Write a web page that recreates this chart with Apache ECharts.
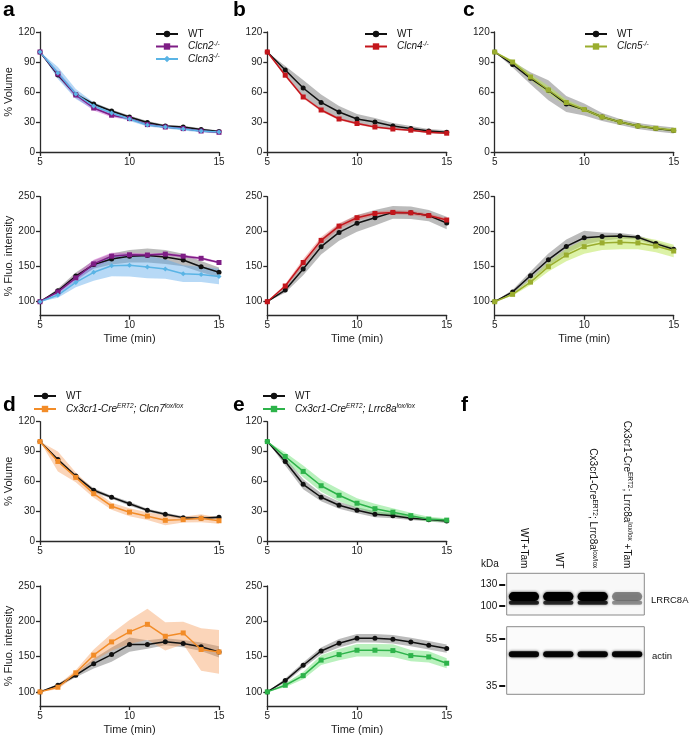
<!DOCTYPE html>
<html><head><meta charset="utf-8">
<script src="https://cdn.jsdelivr.net/npm/echarts@6/dist/echarts.min.js"></script>
<style>html,body{margin:0;padding:0;background:#fff}#c{width:690px;height:737px}</style>
</head><body><div id="c"></div><script>
// ---------- DATA ----------
const times = [5, 6, 7, 8, 9, 10, 11, 12, 13, 14, 15];
const fluoTicks = [100, 150, 200, 250];

// panel a
const aVolWT = [100, 77, 57.5, 48, 41, 35, 29.5, 26, 25, 22.5, 20.5];
const aVolWTsem = [0, 2, 2, 1.5, 1.5, 1.5, 1.5, 1.2, 1.2, 1.2, 1];
const aVolC2 = [100, 78, 57, 44, 36.8, 33.4, 27.4, 25, 23.4, 21, 19.7];
const aVolC2sem = [0, 3, 3, 2.5, 2, 1.5, 1.5, 1, 1, 1, 1];
const aVolC3 = [100, 79, 58, 46, 39, 33, 27, 25, 23, 21, 20];
const aVolC3sem = [0, 6, 5, 3.5, 2.5, 2, 1.5, 1.5, 1.5, 1.5, 1.5];
const aFluWT = [100, 115.7, 136.7, 153, 161, 165, 166, 164, 159.5, 150, 142];
const aFluWTsem = [0, 3, 5, 6, 8, 9, 10, 10, 9, 8, 7];
const aFluC2 = [100, 114, 134, 154, 165, 167, 166.7, 168, 165, 162, 156];
const aFluC2sem = [0, 3, 5, 6, 5, 3, 2, 2, 2, 2, 1.5];
const aFluC3 = [100, 109.5, 127.6, 142, 151.4, 152, 149.5, 146.7, 140, 139, 136];
const aFluC3sem = [0, 4, 7, 12, 15, 16, 16, 14, 12, 11, 11];
// panel b
const bVolWT = [100, 82, 64, 49.6, 40, 33, 30, 26, 23.5, 21, 19.8];
const bVolWTsem = [0, 4, 8, 8, 6, 5, 4, 3, 2.5, 2, 2];
const bVolC4 = [100, 76.8, 55, 42, 33, 28.5, 25, 23, 21.8, 19.8, 18.8];
const bVolC4sem = [0, 1.5, 1.5, 1.5, 1.2, 1.2, 1, 1, 1, 1, 1];
const bFluWT = [100, 116.7, 146.7, 178.6, 199, 212, 220, 227.6, 227, 223, 212.4];
const bFluWTsem = [0, 4, 9, 11, 12, 12, 11, 9, 9, 8, 9];
const bFluC4 = [100, 122.4, 156, 187.6, 208, 220, 226, 227.6, 227, 223, 216.7];
const bFluC4sem = [0, 3, 5, 5, 4, 4, 3, 3, 3, 3, 3];
// panel c
const cVolWT = [100, 87.5, 73.7, 61.7, 48, 42.5, 35, 30, 26, 23.5, 21.5];
const cVolWTsem = [0, 3, 6, 10, 8, 6, 4, 3, 3, 3, 3];
const cVolC5 = [100, 90, 75, 62, 49.5, 42.5, 35, 30, 26, 23.7, 21.7];
const cVolC5sem = [0, 2, 3, 4, 3, 2, 2, 1.5, 1.5, 1.5, 1.5];
const cFluWT = [100, 114, 137, 160, 179, 191.4, 193, 194, 192, 183, 175];
const cFluWTsem = [0, 3, 6, 9, 10, 10, 6, 4, 3, 3, 3];
const cFluC5 = [100, 110.5, 128, 150, 166.7, 178.6, 184, 185, 184, 179.5, 172.4];
const cFluC5sem = [0, 2, 4, 7, 9, 10, 10, 10, 9, 9, 9];
// panel d
const dVolWT = [100, 82, 65.4, 51, 44, 37.5, 31, 27, 23.5, 22.8, 24];
const dVolWTsem = [0, 1.5, 1.5, 2, 1.5, 2, 1.5, 1.5, 1.5, 1.5, 1.5];
const dVolKO = [100, 80, 64, 47.6, 35, 29, 25, 20.8, 21.5, 22.8, 20.4];
const dVolKOsem = [0, 10, 5, 4, 3.5, 4, 4, 5, 3, 4, 3];
const dFluWT = [100, 109.4, 123.6, 140, 152.8, 167, 167, 171, 168.4, 164, 156.6];
const dFluWTsem = [0, 2, 3, 7, 10, 10, 6, 5, 5, 6, 8];
const dFluKO = [100, 106.6, 127, 152, 170.8, 185, 195.7, 178.8, 183.5, 160, 156.6];
const dFluKOsem = [0, 3, 4, 8, 12, 17, 22, 20, 16, 30, 31];
// panel e
const eVolWT = [100, 80, 57, 44, 36, 31, 27, 25.5, 23, 21.5, 20];
const eVolWTsem = [0, 4, 5, 4, 3.5, 3, 3, 2.5, 2, 2, 2];
const eVolKO = [100, 85, 70, 55.6, 46, 38, 32.5, 29, 25.5, 22, 21];
const eVolKOsem = [0, 4, 6, 6, 6, 5, 5, 4, 3, 2.5, 2];
const eFluWT = [100, 116, 137.7, 158, 169, 176, 176, 174.5, 170.8, 166, 161.3];
const eFluWTsem = [0, 3, 4, 5, 6, 6, 6, 6, 6, 6, 6];
const eFluKO = [100, 109.4, 123, 145, 152.8, 159, 159, 158.5, 151.4, 149.5, 140.6];
const eFluKOsem = [0, 3, 5, 7, 8, 9, 9, 9, 8, 8, 7];
// panel f (western blot)
const laneLabels = ['WT+Tam', 'WT',
  '{t|Cx3cr1-Cre}{s|ERT2}{t|; Lrrc8a}{s|lox/lox}',
  '{t|Cx3cr1-Cre}{s|ERT2}{t|; Lrrc8a}{s|lox/lox}{t| +Tam}'];
const lrrcMarkers = [100, 130];
const actinMarkers = [35, 55];
const lrrcUpperKDa = 113;
const lrrcLowerKDa = 104.5;
const actinKDa = 48.5;
const lrrcUpperSignal = [1, 1, 1, 0.42];
const lrrcLowerSignal = [0.8, 0.75, 0.8, 0.38];
const actinSignal = [0.95, 0.95, 0.95, 0.95];

// ---------- STYLE ----------
const FONT = 'Liberation Sans, Arial, Helvetica, sans-serif';
const STY = {
  WT: {color: '#111111', band: 'rgba(105,105,105,0.45)', symbol: 'circle', size: 5, z: 3},
  Clcn2: {color: '#7e1d85', band: 'rgba(205,70,205,0.45)', symbol: 'rect', size: 5, z: 4},
  Clcn3: {color: '#5ab4e5', band: 'rgba(95,170,235,0.45)', symbol: 'diamond', size: 5, z: 4},
  Clcn4: {color: '#c4161c', band: 'rgba(230,95,95,0.4)', symbol: 'rect', size: 5, z: 4},
  Clcn5: {color: '#9aad2e', band: 'rgba(185,230,80,0.5)', symbol: 'rect', size: 5, z: 4},
  Clcn7: {color: '#f28c28', band: 'rgba(245,150,80,0.4)', symbol: 'rect', size: 5, z: 4},
  Lrrc8a: {color: '#2db34a', band: 'rgba(80,220,90,0.4)', symbol: 'rect', size: 5, z: 4}
};
const LEGEND_TXT = {
  WT: '{n|WT}',
  Clcn2: '{it|Clcn2}{sup|-/-}',
  Clcn3: '{it|Clcn3}{sup|-/-}',
  Clcn4: '{it|Clcn4}{sup|-/-}',
  Clcn5: '{it|Clcn5}{sup|-/-}',
  Clcn7: '{it|Cx3cr1-Cre}{sup|ERT2}{it|; Clcn7}{sup|lox/lox}',
  Lrrc8a: '{it|Cx3cr1-Cre}{sup|ERT2}{it|; Lrrc8a}{sup|lox/lox}'
};

// grid geometry: [left, top, width, height, kind, yName, xName]
const GRIDS = [
  [40, 32, 179, 120, 'vol', '% Volume', false],
  [40, 196.7, 179, 119, 'flu', '% Fluo. intensity', true],
  [267.3, 32, 179.4, 120, 'vol', '', false],
  [267.3, 196.7, 179.4, 119, 'flu', '', true],
  [494.7, 32, 179, 120, 'vol', '', false],
  [494.7, 196.7, 179, 119, 'flu', '', true],
  [40, 421.7, 179, 119.3, 'vol', '% Volume', false],
  [40, 586, 179, 120, 'flu', '% Fluo. intensity', true],
  [267.3, 421.7, 179.4, 119.3, 'vol', '', false],
  [267.3, 586, 179.4, 120, 'flu', '', true]
];
const PANEL_SERIES = [
  [['WT', aVolWT, aVolWTsem], ['Clcn2', aVolC2, aVolC2sem], ['Clcn3', aVolC3, aVolC3sem]],
  [['WT', aFluWT, aFluWTsem], ['Clcn2', aFluC2, aFluC2sem], ['Clcn3', aFluC3, aFluC3sem]],
  [['WT', bVolWT, bVolWTsem], ['Clcn4', bVolC4, bVolC4sem]],
  [['WT', bFluWT, bFluWTsem], ['Clcn4', bFluC4, bFluC4sem]],
  [['WT', cVolWT, cVolWTsem], ['Clcn5', cVolC5, cVolC5sem]],
  [['WT', cFluWT, cFluWTsem], ['Clcn5', cFluC5, cFluC5sem]],
  [['WT', dVolWT, dVolWTsem], ['Clcn7', dVolKO, dVolKOsem]],
  [['WT', dFluWT, dFluWTsem], ['Clcn7', dFluKO, dFluKOsem]],
  [['WT', eVolWT, eVolWTsem], ['Lrrc8a', eVolKO, eVolKOsem]],
  [['WT', eFluWT, eFluWTsem], ['Lrrc8a', eFluKO, eFluKOsem]]
];

const axisLineStyle = {color: '#2a2a2a', width: 1.3};
const grid = [], xAxis = [], yAxis = [], series = [];

// SEM band: one polygon through all points of the series (upper edge, then lower edge reversed)
const bandRenderer = (color) => (params, api) => {
  if (params.dataIndexInside !== 0) return null;
  const n = params.dataInsideLength;
  const up = [], lo = [];
  for (let j = 0; j < n; j++) {
    up.push(api.coord([api.value(0, j), api.value(2, j)]));
    lo.push(api.coord([api.value(0, j), api.value(1, j)]));
  }
  return {type: 'polygon', shape: {points: up.concat(lo.reverse())}, style: {fill: color}};
};

GRIDS.forEach((g, gi) => {
  grid.push({left: g[0], top: g[1], width: g[2], height: g[3], show: false});
  xAxis.push({
    type: 'value', gridIndex: gi, min: 5, max: 15, interval: 5,
    splitLine: {show: false},
    axisLine: {show: true, onZero: false, lineStyle: axisLineStyle},
    axisTick: {show: true, length: 4, lineStyle: axisLineStyle},
    axisLabel: {fontSize: 10, color: '#222', fontFamily: FONT, margin: 5},
    name: g[6] ? 'Time (min)' : '', nameLocation: 'middle', nameGap: 18,
    nameTextStyle: {fontSize: 11, color: '#222', fontFamily: FONT}
  });
  const isVol = g[4] === 'vol';
  yAxis.push({
    type: 'value', gridIndex: gi,
    min: isVol ? 0 : 80, max: isVol ? 120 : 250,
    interval: isVol ? 30 : undefined,
    splitLine: {show: false},
    axisLine: {show: true, lineStyle: axisLineStyle},
    axisTick: isVol ? {show: true, length: 4, lineStyle: axisLineStyle}
                    : {show: true, length: 4, lineStyle: axisLineStyle, customValues: fluoTicks},
    axisLabel: isVol ? {fontSize: 10, color: '#222', fontFamily: FONT, margin: 5}
                     : {fontSize: 10, color: '#222', fontFamily: FONT, margin: 5, customValues: fluoTicks},
    name: g[5], nameLocation: 'middle', nameGap: 25,
    nameTextStyle: {fontSize: 11, color: '#222', fontFamily: FONT}
  });
  PANEL_SERIES[gi].forEach((s, k) => {
    const st = STY[s[0]];
    const mean = s[1], sem = s[2];
    series.push({
      type: 'custom', name: 'band_' + gi + '_' + k, xAxisIndex: gi, yAxisIndex: gi,
      data: times.map((t, i) => [t, mean[i] - sem[i], mean[i] + sem[i]]),
      encode: {x: 0, y: [1, 2]},
      renderItem: bandRenderer(st.band), silent: true, z: 1, animation: false
    });
  });
  PANEL_SERIES[gi].forEach((s) => {
    const st = STY[s[0]];
    series.push({
      type: 'line', name: s[0], xAxisIndex: gi, yAxisIndex: gi,
      data: times.map((t, i) => [t, s[1][i]]),
      symbol: st.symbol, symbolSize: st.size, showSymbol: true,
      itemStyle: {color: st.color}, lineStyle: {color: st.color, width: 1.5},
      z: st.z, animation: false
    });
  });
});

// ---------- BLOT ----------
const blotGridUpper = grid.length;
grid.push({left: 506.7, top: 573.3, width: 137.6, height: 41.7, show: true,
  borderColor: '#8a8a8a', borderWidth: 1, backgroundColor: '#f8f8f8'});
grid.push({left: 506.7, top: 626.7, width: 137.6, height: 67.6, show: true,
  borderColor: '#8a8a8a', borderWidth: 1, backgroundColor: '#fbfbfb'});
const laneIdx = laneLabels.map((_, i) => i);
xAxis.push({
  type: 'category', gridIndex: blotGridUpper, data: laneIdx, position: 'top',
  axisLine: {show: false}, axisTick: {show: false},
  axisLabel: {
    rotate: 90, margin: 5, fontSize: 10, color: '#111', fontFamily: FONT,
    formatter: (v, i) => laneLabels[i],
    rich: {t: {fontSize: 10, fontFamily: FONT, color: '#111', lineHeight: 12},
           s: {fontSize: 6.5, fontFamily: FONT, color: '#111', verticalAlign: 'top', lineHeight: 7}}
  }
});
xAxis.push({type: 'category', gridIndex: blotGridUpper + 1, data: laneIdx, show: false});
const blotY = (gi, min, max, marks) => ({
  type: 'value', gridIndex: gi, min: min, max: max, offset: 1.5,
  splitLine: {show: false}, axisLine: {show: false},
  axisTick: {show: true, length: 6, customValues: marks, lineStyle: {color: '#111', width: 2}},
  axisLabel: {customValues: marks, fontSize: 10, color: '#111', fontFamily: FONT, margin: 8}
});
yAxis.push(blotY(blotGridUpper, 87.5, 145.2, lrrcMarkers));
yAxis.push(blotY(blotGridUpper + 1, 31.5, 60.2, actinMarkers));

const bandRender = (params, api) => {
  const kind = api.value(3);
  const c = api.coord([api.value(0), api.value(1)]);
  const w = api.size([1, 0])[0] * 0.88;
  const h = kind === 0 ? 9 : (kind === 1 ? 4 : 6);
  const a = api.value(2);
  return {
    type: 'rect',
    shape: {x: c[0] - w / 2, y: c[1] - h / 2, width: w, height: h, r: h / 2},
    style: {fill: 'rgba(0,0,0,' + a + ')', shadowBlur: 3, shadowColor: 'rgba(0,0,0,' + (a * 0.8) + ')'}
  };
};
series.push({
  type: 'custom', name: 'lrrc8a-blot', xAxisIndex: xAxis.length - 2, yAxisIndex: yAxis.length - 2,
  renderItem: bandRender, silent: true, animation: false,
  data: laneIdx.map(i => [i, lrrcUpperKDa, lrrcUpperSignal[i], 0])
    .concat(laneIdx.map(i => [i, lrrcLowerKDa, lrrcLowerSignal[i], 1]))
});
series.push({
  type: 'custom', name: 'actin-blot', xAxisIndex: xAxis.length - 1, yAxisIndex: yAxis.length - 1,
  renderItem: bandRender, silent: true, animation: false,
  data: laneIdx.map(i => [i, actinKDa, actinSignal[i], 2])
});

// ---------- LEGENDS ----------
const legendRich = {
  n: {fontSize: 10, fontFamily: FONT, color: '#111', lineHeight: 12},
  it: {fontSize: 10, fontFamily: FONT, color: '#111', fontStyle: 'italic', lineHeight: 12},
  sup: {fontSize: 6.5, fontFamily: FONT, color: '#111', fontStyle: 'italic', verticalAlign: 'top', lineHeight: 7}
};
const mkLegend = (left, top, names, gap) => ({
  left: left, top: top, orient: 'vertical', data: names, selectedMode: false,
  itemWidth: 22, itemHeight: 8, itemGap: gap,
  formatter: n => LEGEND_TXT[n],
  textStyle: {rich: legendRich, padding: [0, 0, 0, 5]}
});
const legend = [
  mkLegend(150, 24, ['WT', 'Clcn2', 'Clcn3'], 1.5),
  mkLegend(359, 24, ['WT', 'Clcn4'], 1.5),
  mkLegend(579, 24, ['WT', 'Clcn5'], 1.5),
  mkLegend(28, 386, ['WT', 'Clcn7'], 2),
  mkLegend(257, 386, ['WT', 'Lrrc8a'], 2)
];

const letter = (t, x, y) => ({type: 'text', left: x, top: y,
  style: {text: t, fontSize: 21, fontWeight: 'bold', fontFamily: FONT, fill: '#000'}});
const label = (t, x, y, fs) => ({type: 'text', left: x, top: y,
  style: {text: t, fontSize: fs, fontFamily: FONT, fill: '#111'}});

const chart = echarts.init(document.getElementById('c'), null, {renderer: 'canvas'});
chart.setOption({
  backgroundColor: '#fff',
  animation: false,
  textStyle: {fontFamily: FONT},
  grid, xAxis, yAxis, series, legend,
  graphic: [
    letter('a', 3, 0), letter('b', 233, 0), letter('c', 463, 0),
    letter('d', 3, 395), letter('e', 233, 395), letter('f', 461, 395),
    label('kDa', 481, 559, 10),
    label('LRRC8A', 651, 595, 9.5),
    label('actin', 652, 651, 9.5)
  ]
});
</script></body></html>
